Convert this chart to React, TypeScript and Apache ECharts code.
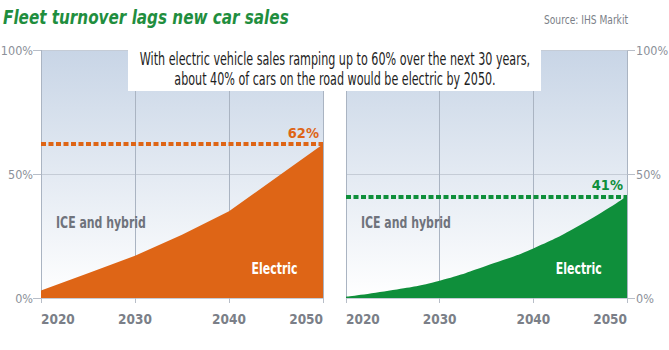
import React, { useEffect, useRef } from "react";
import * as echarts from "echarts";

const years = [2020, 2025, 2030, 2035, 2040, 2045, 2050];
const salesShare = [3, 10, 17, 25.5, 35, 48.5, 62];
const fleetShare = [0.5, 3.2, 7, 13, 20, 29.4, 41];
const salesEnd = 62;
const fleetEnd = 41;
const yTicks = [0, 50, 100];
const titleText = "Fleet turnover lags new car sales";
const sourceText = "Source: IHS Markit";
const noteLines = [
  "With electric vehicle sales ramping up to 60% over the next 30 years,",
  "about 40% of cars on the road would be electric by 2050.",
];
const iceLabel = "ICE and hybrid";
const evLabel = "Electric";
const iceAt = [2021.6, 30.6];
const evAt = [2044.85, 12];

const FONT = "'DejaVu Sans Condensed', 'Liberation Sans Narrow', sans-serif";
const ORANGE = "#de6516";
const GREEN = "#0f8f3b";
const GRAY = "#8c9099";
const LABELGRAY = "#6f737c";

export default function App() {
  const ref = useRef<HTMLDivElement>(null);
  useEffect(() => {
    if (!ref.current) return;
    const chart = echarts.init(ref.current, null, { renderer: "svg" });
    const bg = new echarts.graphic.LinearGradient(0, 0, 0, 1, [
      { offset: 0, color: "#c8d5e6" },
      { offset: 1, color: "#ffffff" },
    ]);
    const mkX = (gi: number) => ({
      type: "value" as const,
      gridIndex: gi,
      min: 2020,
      max: 2050,
      interval: 10,
      axisLine: { show: false },
      axisTick: { show: true, length: 5, lineStyle: { color: "#b8bec8" } },
      axisLabel: {
        color: "#7b7f88",
        fontFamily: FONT,
        fontSize: 13.5,
        fontWeight: "bold" as const,
        margin: 14,
        alignMinLabel: "left",
        alignMaxLabel: "right",
        formatter: (v: number) => String(v),
      },
      splitLine: { show: true, lineStyle: { color: "#aab4c2", width: 1 } },
    });
    const mkY = (gi: number, pos: "left" | "right", margin: number) => ({
      type: "value" as const,
      gridIndex: gi,
      position: pos,
      min: 0,
      max: 100,
      interval: 50,
      axisLine: { show: false },
      axisTick: { show: true, length: 8, lineStyle: { color: "#b8bec8" } },
      axisLabel: {
        color: GRAY,
        fontFamily: FONT,
        fontSize: 12.5,
        margin,
        formatter: (v: number) => (yTicks.includes(v) ? v + "%" : ""),
      },
      splitLine: { show: true, lineStyle: { color: "#c5ccd6", width: 1 } },
    });
    const mkSeries = (gi: number, data: number[], color: string, end: number, smooth: boolean) => ({
      type: "line" as const,
      xAxisIndex: gi,
      yAxisIndex: gi,
      data: years.map((y, i) => [y, data[i]]),
      smooth,
      symbol: "none",
      lineStyle: { width: 0, color },
      areaStyle: { color, opacity: 1 },
      z: 2,
      markLine: {
        silent: true,
        symbol: "none",
        lineStyle: { color, width: 4, type: [5, 2.5] },
        label: {
          show: true,
          position: "insideEndTop",
          formatter: end + "%",
          color,
          fontFamily: FONT,
          fontSize: 14.5,
          fontWeight: "bold",
          distance: [4, 4],
        },
        data: [[{ coord: [2020, end] }, { coord: [2050, end] }]],
        z: 5,
      },
    });
    chart.setOption({
      animation: false,
      grid: [
        {
          left: 41, top: 50, width: 282, height: 248, show: true, backgroundColor: bg, borderWidth: 0,
          containLabel: false, outerBoundsMode: "none",
        },
        {
          left: 346, top: 50, width: 281, height: 248, show: true, backgroundColor: bg, borderWidth: 0,
          containLabel: false, outerBoundsMode: "none",
        },
      ],
      xAxis: [mkX(0), mkX(1)],
      yAxis: [mkY(0, "left", 8), mkY(1, "right", 9)],
      series: [
        mkSeries(0, salesShare, ORANGE, salesEnd, false),
        mkSeries(1, fleetShare, GREEN, fleetEnd, true),
      ],
    });
    const inGrid: any[] = [];
    [0, 1].forEach((gi) => {
      const p1 = chart.convertToPixel({ gridIndex: gi }, iceAt) as number[];
      const p2 = chart.convertToPixel({ gridIndex: gi }, evAt) as number[];
      inGrid.push({
        type: "text",
        x: p1[0],
        y: p1[1],
        scaleX: 0.76,
        z: 6,
        style: {
          text: iceLabel,
          fill: LABELGRAY,
          font: "bold 16px " + FONT,
          align: "left",
          verticalAlign: "middle",
        },
      });
      inGrid.push({
        type: "text",
        x: p2[0],
        y: p2[1],
        scaleX: 0.76,
        z: 6,
        style: {
          text: evLabel,
          fill: "#ffffff",
          font: "bold 16px " + FONT,
          align: "center",
          verticalAlign: "middle",
        },
      });
    });
    chart.setOption({
      graphic: [
        {
          type: "text",
          x: 3,
          y: 8,
          scaleX: 0.89,
          style: {
            text: titleText,
            fill: "#1f8e3e",
            font: "italic bold 19px " + FONT,
          },
        },
        {
          type: "text",
          x: 628,
          y: 13,
          scaleX: 0.78,
          style: {
            text: sourceText,
            fill: "#7b7f88",
            font: "13px " + FONT,
            align: "right",
          },
        },
        {
          type: "rect",
          shape: { x: 128, y: 48, width: 413, height: 43 },
          style: { fill: "#ffffff" },
          z: 10,
        },
        {
          type: "text",
          x: 335,
          y: 50,
          scaleX: 0.73,
          z: 11,
          style: {
            text: noteLines.join("\n"),
            fill: "#1e1e1e",
            font: "17px " + FONT,
            lineHeight: 19.5,
            align: "center",
          },
        },
        ...inGrid,
      ],
    });
    return () => chart.dispose();
  }, []);
  return <div ref={ref} style={{ width: 669, height: 350, position: "absolute", left: 0, top: 0 }} />;
}
